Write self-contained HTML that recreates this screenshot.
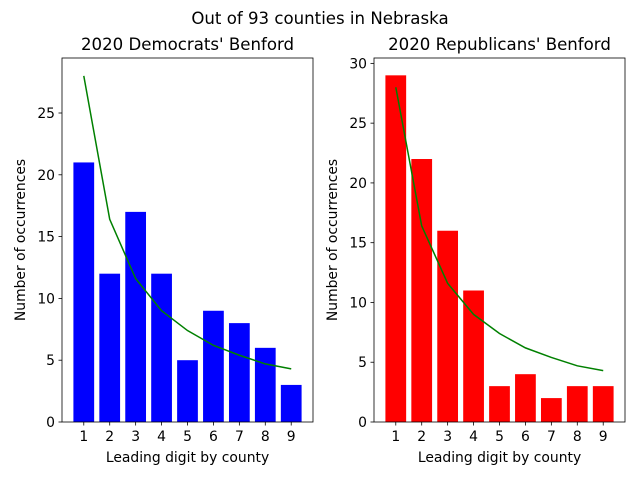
<!DOCTYPE html>
<html><head><meta charset="utf-8"><style>
body{margin:0;background:#fff;font-family:"Liberation Sans","DejaVu Sans",sans-serif;}
text{font-family:"DejaVu Sans","Liberation Sans",sans-serif;}
</style></head><body>
<svg id="chart" width="640" height="480" xmlns="http://www.w3.org/2000/svg">
<text x="320" y="24" font-size="16.6" text-anchor="middle">Out of 93 counties in Nebraska</text>
</svg>
<script>
const digits=[1,2,3,4,5,6,7,8,9];
const demCounts=[21,12,17,12,5,9,8,6,3];
const repCounts=[29,22,16,11,3,4,2,3,3];
const benford=[28.0,16.4,11.6,9.0,7.4,6.2,5.4,4.7,4.3];
const demTicks=[0,5,10,15,20,25];
const repTicks=[0,5,10,15,20,25,30];
const svg=document.getElementById('chart');
const NS='http://www.w3.org/2000/svg';
function mk(t,a,p){const e=document.createElementNS(NS,t);for(const k in a)e.setAttribute(k,a[k]);(p||svg).appendChild(e);return e;}
function panel(cfg){
  const g=mk('g',{});
  
  
  const L=cfg.left,R=cfg.left+251,T=58,B=422;
  const xlo=0.16,xhi=9.84;
  const xs=v=>L+(v-xlo)/(xhi-xlo)*(R-L);
  const ys=v=>B-(v/cfg.ymax)*(B-T);
  cfg.counts.forEach((c,i)=>{
    const w=(xs(0.8)-xs(0));
    const r=mk('rect',{x:xs(digits[i])-w/2,y:ys(c),width:w,height:ys(0)-ys(c),fill:cfg.color},g);
    
    
  });
  const pl=mk('polyline',{points:benford.map((v,i)=>xs(digits[i])+','+ys(v)).join(' '),fill:'none',stroke:'green','stroke-width':1.5},g);
  
  
  const fr=mk('rect',{x:L,y:T,width:R-L,height:B-T,fill:'none',stroke:'#000','stroke-width':0.8},g);
  
  
  digits.forEach(d=>{
    mk('line',{x1:xs(d),x2:xs(d),y1:B,y2:B+3.5,stroke:'#000','stroke-width':0.8},g);
    const t=mk('text',{x:xs(d),y:B+19,'font-size':13.9,'text-anchor':'middle'},g);t.textContent=d;
    
    
  });
  cfg.ticks.forEach(v=>{
    mk('line',{x1:L-3.5,x2:L,y1:ys(v),y2:ys(v),stroke:'#000','stroke-width':0.8},g);
    const t=mk('text',{x:L-7,y:ys(v)+5,'font-size':13.9,'text-anchor':'end'},g);t.textContent=v;
    
    
  });
  const tt=mk('text',{x:(L+R)/2,y:50,'font-size':16.6,'text-anchor':'middle'},g);tt.textContent=cfg.title;
  
  
  const xl=mk('text',{x:(L+R)/2,y:462,'font-size':13.9,'text-anchor':'middle'},g);xl.textContent='Leading digit by county';
  
  
  const yx=cfg.left-37;
  const yl=mk('text',{x:yx,y:(T+B)/2,'font-size':13.9,'text-anchor':'middle',transform:'rotate(-90 '+yx+' '+(T+B)/2+')'},g);yl.textContent='Number of occurrences';
  
  
}
panel({name:'democrats-panel',left:62,counts:demCounts,color:'#0000ff',ymax:29.45,ticks:demTicks,title:"2020 Democrats' Benford"});
panel({name:'republicans-panel',left:374,counts:repCounts,color:'#ff0000',ymax:30.45,ticks:repTicks,title:"2020 Republicans' Benford"});
</script>
</body></html>
